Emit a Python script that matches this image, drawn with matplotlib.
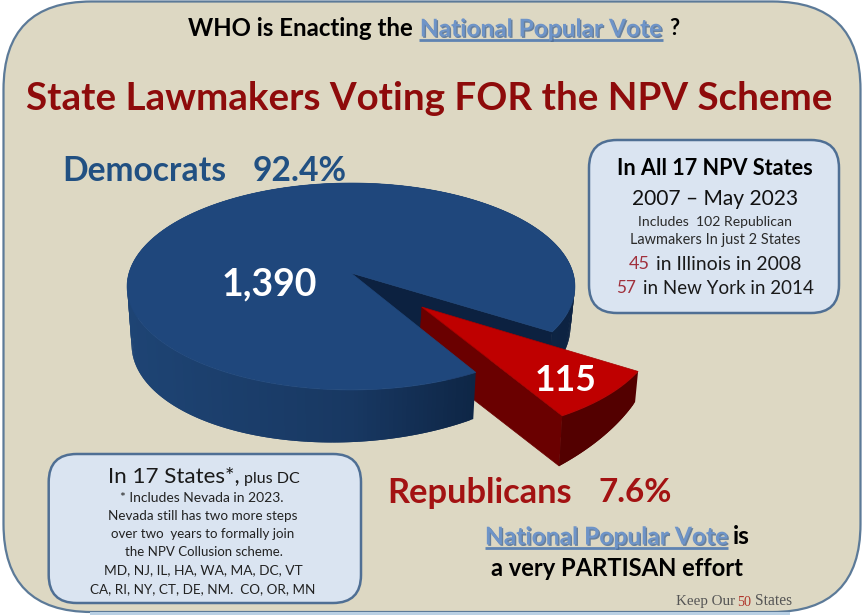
import numpy as np
import matplotlib
matplotlib.use("Agg")
import matplotlib.pyplot as plt
from matplotlib.patches import FancyBboxPatch, Polygon, Rectangle
import matplotlib.patheffects as pe
from matplotlib.colors import to_rgb

# ---- data ----
parties = ["Democrats", "Republicans"]
votes = [1390, 115]
shares = ["92.4%", "7.6%"]
explode = 0.443
start_angle = 32.6

# ---- figure ----
plt.rcParams['font.family'] = ['Lato', 'DejaVu Sans']
fig = plt.figure(figsize=(8.64, 6.15), dpi=100, facecolor='white')
ax = fig.add_axes([0, 0, 1, 1])
ax.set_xlim(0, 864); ax.set_ylim(615, 0); ax.axis('off')
renderer = fig.canvas.get_renderer()


def fit(s, x0, x1, y, color='black', weight='normal', family=None, z=30, effects=None):
    t = ax.text((x0 + x1) / 2, y, s, ha='center', va='center', color=color,
                fontweight=weight, fontsize=20, zorder=z,
                family=family if family else ['Lato', 'DejaVu Sans'])
    w = t.get_window_extent(renderer).width
    fs = 20 * (x1 - x0) / w
    t.set_fontsize(fs)
    t.set_y(y + 0.08 * fs * 100 / 72)
    if effects:
        t.set_path_effects(effects)
    return t


def box(x0, y0, x1, y1, r, fc, ec, lw, z):
    ax.add_patch(FancyBboxPatch((x0 + r, y0 + r), x1 - x0 - 2 * r, y1 - y0 - 2 * r,
                                boxstyle=f"round,pad={r},rounding_size={r}",
                                fc=fc, ec=ec, lw=lw, zorder=z))


# background
box(3.5, 1.5, 860.5, 612, 88, '#DDD8C3', '#5C7A98', 1.6, 1)
ax.add_patch(Rectangle((90, 612), 700, 3, fc='#B9D0E4', ec='none', zorder=2))
box(48.7, 454, 361, 603, 28, '#DAE4F1', '#4F6F94', 1.8, 3)
box(589, 140, 839, 313, 28, '#DAE4F1', '#4F6F94', 1.8, 3)

# ---- 3-D pie, wedges derived from the votes ----
total = sum(votes)
sweep_rep = 360 * votes[1] / total
sweep_dem = 360 * votes[0] / total
a_rep0, a_rep1 = start_angle, start_angle + sweep_rep
a_dem0, a_dem1 = a_rep1, a_rep1 + sweep_dem


def project(u, v):
    w = 1 - 0.1304 * v
    return 351 + 222 * u / w, 273 + 101.7 * v / w


def bottom_dem(x, y):
    return 351 + (x - 351) * 0.98, y + 54.5 - 0.04 * x + 0.03 * y


def bottom_rep(x, y):
    return x - 3, y + 53.4 - 0.1456 * x + 0.189 * y


def rim(a0, a1, n, du=0.0, dv=0.0):
    t = np.radians(np.linspace(a0, a1, n))
    return project(np.cos(t) + du, np.sin(t) + dv)


def side_colour(x):
    stops_x = [127, 351, 474, 575]
    stops = np.array([to_rgb(c) for c in ['#1E4474', '#183862', '#0E2646', '#0D2342']])
    return tuple(np.interp(x, stops_x, stops[:, i]) for i in range(3))


def side_quads(a0, a1, bottom, colour, z):
    n = max(int(abs(a1 - a0)), 2)
    x, y = rim(a0, a1, n + 1, *bottom[1])
    bx, by = bottom[0](x, y)
    for i in range(n):
        c = colour((x[i] + x[i + 1]) / 2)
        j = min(i + 2, n)   # overlap the next quad so that no seam shows
        ax.add_patch(Polygon([(x[i], y[i]), (x[i + 1], y[i + 1]), (x[j], y[j]),
                              (bx[j], by[j]), (bx[i + 1], by[i + 1]), (bx[i], by[i])],
                             closed=True, fc=c, ec='none', zorder=z))


# blue: back/right part of the side and the visible cut face
side_quads(270, a_dem1, (bottom_dem, (0, 0)), side_colour, 5)
ax0, ay0 = project(0, 0)
rx, ry = rim(a_dem1, a_dem1, 1)
bx0, by0 = bottom_dem(ax0, ay0)
brx, bry = bottom_dem(rx[0], ry[0])
ax.add_patch(Polygon([(ax0, ay0), (rx[0], ry[0]), (brx, bry), (bx0, by0)], closed=True,
                     fc='#0C2140', ec='#0C2140', lw=0.5, zorder=6))

# red slice
mid = np.radians((a_rep0 + a_rep1) / 2)
du, dv = explode * np.cos(mid), explode * np.sin(mid)
rax, ray = project(du, dv)
rbx, rby = bottom_rep(rax, ray)
xr, yr = rim(a_rep0, a_rep1, 40, du, dv)
bxr, byr = bottom_rep(xr, yr)
ax.add_patch(Polygon([(rax, ray), (xr[-1], yr[-1]), (bxr[-1], byr[-1]), (rbx, rby)], closed=True,
                     fc='#6A0000', ec='#6A0000', lw=0.5, zorder=7))
side_quads(a_rep0, a_rep1, (bottom_rep, (du, dv)), lambda x: '#530000', 8)
ax.add_patch(Polygon(np.vstack([[rax, ray], np.column_stack([xr, yr])]), closed=True,
                     fc='#BF0000', ec='#A80000', lw=0.5, zorder=9))

# blue: front part of the side and the top
side_quads(a_dem0, 270, (bottom_dem, (0, 0)), side_colour, 10)
xb, yb = rim(a_dem0, a_dem1, 400)
ax.add_patch(Polygon(np.vstack([[ax0, ay0], np.column_stack([xb, yb])]), closed=True,
                     fc='#1F477C', ec='#1F477C', lw=0.5, zorder=11))

# ---- text ----
fit(f"{votes[0]:,}", 221, 317, 281, 'white', 'bold', z=20)
fit(f"{votes[1]:,}", 535, 597, 378, 'white', 'bold', z=20)

npv_fx = [pe.SimplePatchShadow(offset=(1, -1), shadow_rgbFace='#4A6A94', alpha=0.8), pe.Normal()]
npv_blue = '#6E94C8'
fit("WHO is Enacting the", 188, 413, 27, 'black', 'bold')
fit("National Popular Vote", 420, 662, 27, npv_blue, 'bold', effects=npv_fx)
ax.plot([419, 663], [39.5, 39.5], color='#5F83B2', lw=2, solid_capstyle='butt', zorder=29)
fit("?", 669, 679, 27, 'black', 'bold')
fit("State Lawmakers Voting FOR the NPV Scheme", 27, 832, 95, '#8E0B0B', 'bold')

fit(parties[0], 62, 226, 168, '#215082', 'bold')
fit(shares[0], 253, 347, 168, '#215082', 'bold')
fit(parties[1], 387, 572, 490, '#A31212', 'bold')
fit(shares[1], 598, 672, 490, '#A31212', 'bold')

fit("In All 17 NPV States", 617, 813, 167, 'black', 'bold')
fit("2007 – May 2023", 632, 798, 197, '#111111')
fit("Includes  102 Republican", 638, 792, 221, '#2A2A2A')
fit("Lawmakers In just 2 States", 630, 800, 239, '#2A2A2A')
fit("45", 629, 650, 263, '#A0303C')
fit("in Illinois in 2008", 656, 801, 263, '#1A1A1A')
fit("57", 616, 636, 287, '#A0303C')
fit("in New York in 2014", 643, 814, 287, '#1A1A1A')

fit("In 17 States*,", 108, 240, 474, '#1A1A1A')
fit("plus DC", 244, 300, 478, '#1A1A1A')
fit("* Includes Nevada in 2023.", 120, 284, 497, '#222222')
fit("Nevada still has two more steps", 109, 297, 515, '#222222')
fit("over two  years to formally join", 111, 295, 533, '#222222')
fit("the NPV Collusion scheme.", 125, 283, 551, '#222222')
fit("MD, NJ, IL, HA, WA, MA, DC, VT", 103, 303, 569, '#222222')
fit("CA, RI, NY, CT, DE, NM.  CO, OR, MN", 91, 315, 588, '#222222')

fit("National Popular Vote", 485, 728, 535, npv_blue, 'bold', effects=npv_fx)
ax.plot([485, 728], [548, 548], color='#5F83B2', lw=2, solid_capstyle='butt', zorder=29)
fit("is", 733, 750, 535, 'black', 'bold')
fit("a very PARTISAN effort", 491, 743, 567, 'black', 'bold')

serif = ['Liberation Serif', 'DejaVu Serif']
fit("Keep Our", 676, 735, 600, '#555555', family=serif)
fit("50", 737, 751, 601, '#B0352A', family=serif)
fit("States", 755, 792, 600, '#555555', family=serif)

fig.savefig("out.png", dpi=100, facecolor='white')
